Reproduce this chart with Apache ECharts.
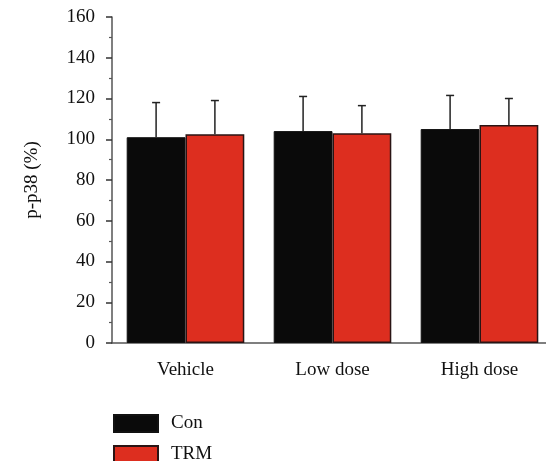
<!DOCTYPE html>
<html>
<head>
<meta charset="utf-8">
<script src="https://cdn.jsdelivr.net/npm/echarts@6/dist/echarts.min.js"></script>
<style>html,body{margin:0;padding:0;background:#fff;overflow:hidden}#c{width:553px;height:461px}</style>
</head>
<body>
<div id="c"></div>
<script>
const categories = ['Vehicle', 'Low dose', 'High dose'];
const conValues = [101, 104, 105];
const conErrTop = [118, 121, 121.5];
const trmValues = [102.5, 103, 107];
const trmErrTop = [119, 116.5, 120];
const yTicks = [0, 20, 40, 60, 80, 100, 120, 140, 160];

const FONT = '"Liberation Serif", "DejaVu Serif", serif';
const chart = echarts.init(document.getElementById('c'), null, {renderer: 'canvas'});

const CAT_GAP = 0.2;
function errSeries(name, values, tops, side) {
  return {
    type: 'custom',
    name: name + ' err',
    z: 5,
    silent: true,
    data: values.map((v, i) => [i, v, tops[i]]),
    renderItem: function (params, api) {
      const i = api.value(0);
      const base = api.coord([i, api.value(1)]);
      const top = api.coord([i, api.value(2)]);
      const band = api.size([1, 0])[0];
      const bw = band * (1 - CAT_GAP) / 2;
      const x = base[0] + side * bw / 2;
      const cap = 4;
      const st = {stroke: '#222', lineWidth: 1.5};
      return {
        type: 'group',
        children: [
          {type: 'line', shape: {x1: x, y1: base[1], x2: x, y2: top[1]}, style: st},
          {type: 'line', shape: {x1: x - cap, y1: top[1], x2: x + cap, y2: top[1]}, style: st}
        ]
      };
    }
  };
}

const legendCommon = {
  orient: 'vertical',
  left: 113,
  padding: 0,
  itemWidth: 44,
  itemHeight: 17,
  icon: 'rect',
  textStyle: {fontFamily: FONT, fontSize: 19, color: '#111', padding: [0, 0, 0, 8]}
};

chart.setOption({
  animation: false,
  backgroundColor: '#fff',
  grid: {left: 112, top: 17, right: 0, height: 326},
  legend: [
    Object.assign({}, legendCommon, {top: 414, data: ['Con']}),
    Object.assign({}, legendCommon, {top: 445, data: ['TRM']})
  ],
  xAxis: {
    type: 'category',
    data: categories,
    axisLine: {lineStyle: {color: '#555', width: 1.5}},
    axisTick: {alignWithLabel: true, length: 10, lineStyle: {color: '#222', width: 1.5}},
    axisLabel: {fontFamily: FONT, fontSize: 19, color: '#111', margin: 18}
  },
  yAxis: {
    type: 'value',
    min: 0,
    max: 160,
    interval: 20,
    name: 'p-p38 (%)',
    nameLocation: 'middle',
    nameGap: 70,
    nameTextStyle: {fontFamily: FONT, fontSize: 19, color: '#111'},
    axisLine: {show: true, lineStyle: {color: '#555', width: 1.5}},
    axisTick: {show: true, inside: false, length: 6, lineStyle: {color: '#333', width: 1.5}},
    minorTick: {show: true, splitNumber: 2, length: 3, lineStyle: {color: '#555', width: 1.2}},
    splitLine: {show: false},
    axisLabel: {fontFamily: FONT, fontSize: 19, color: '#111', margin: 17,
      formatter: v => yTicks.includes(v) ? String(v) : ''}
  },
  series: [
    {
      name: 'Con', type: 'bar', data: conValues,
      barGap: '0%', barCategoryGap: '20%',
      itemStyle: {color: '#0a0a0a', borderColor: '#111', borderWidth: 1}
    },
    {
      name: 'TRM', type: 'bar', data: trmValues,
      itemStyle: {color: '#dd2e1f', borderColor: '#2a1414', borderWidth: 1.5}
    },
    errSeries('Con', conValues, conErrTop, -1),
    errSeries('TRM', trmValues, trmErrTop, 1)
  ]
});
</script>
</body>
</html>
